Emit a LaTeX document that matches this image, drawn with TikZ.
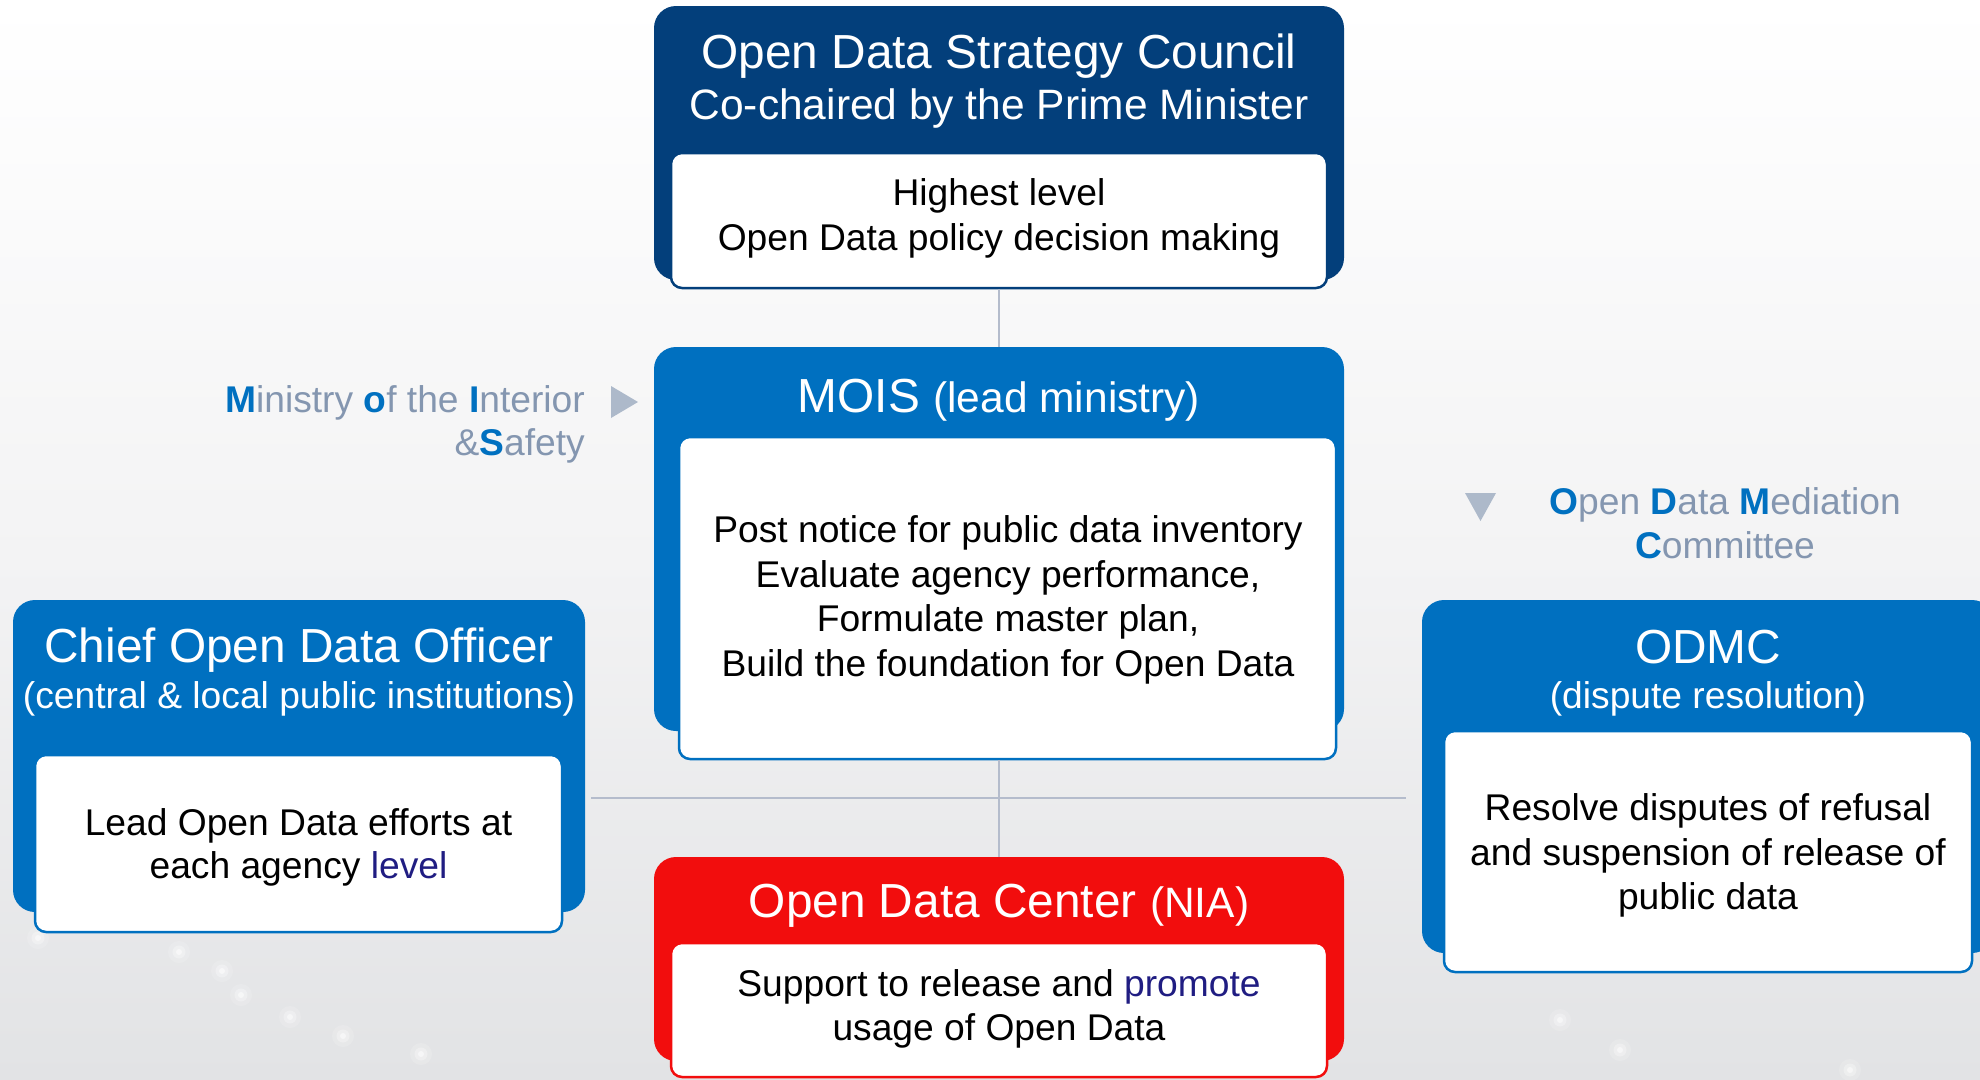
\documentclass[tikz,border=0pt]{standalone}
\usepackage{fontspec}
\setmainfont{Liberation Sans}
\definecolor{cdark}{HTML}{033F7B}
\definecolor{cblue}{HTML}{0070C0}
\definecolor{cred}{HTML}{F20D0D}
\definecolor{cgray}{HTML}{8496B0}
\definecolor{ctri}{HTML}{ADB9CA}
\definecolor{cnavy}{HTML}{201D82}
\definecolor{cline}{HTML}{B4BCCC}
\definecolor{bgmid}{HTML}{F3F3F4}
\definecolor{bgbot}{HTML}{E2E3E5}
\newcommand\myfsA{\fontsize{47.8}{55}\selectfont}
\newcommand\myfsB{\fontsize{42.5}{50}\selectfont}
\newcommand\myfsC{\fontsize{37.2}{44.6}\selectfont}
\newcommand\myb[1]{\textbf{\color{cblue}#1}}
\tikzset{
  obox/.style={rectangle, rounded corners=22pt, fill=#1, inner sep=0pt},
  ibox/.style={rectangle, rounded corners=11pt, fill=white, draw=#1, line width=2.5pt, inner sep=0pt},
  conn/.style={draw=cline, line width=2.2pt},
  ttl/.style={inner sep=0pt, anchor=base, text=white},
  bodytxt/.style={inner sep=0pt, anchor=base, text=black, font=\myfsC},
  lbl/.style={inner sep=0pt, text=cgray, font=\myfsC},
}
\begin{document}
\begin{tikzpicture}[x=1pt,y=-1pt]
\useasboundingbox (0,0) rectangle (1980,1079);
% background
\shade[top color=white, bottom color=bgmid] (0,0) rectangle (1980,560);
\shade[top color=bgmid, bottom color=bgbot] (0,560) rectangle (1980,1079);
\foreach \px/\py in {38/938,179/952,222/971,241/995,290/1017,343/1036,421/1054,1560/1020,1620/1050,1850/1070}{
  \fill[white, opacity=0.15] (\px,\py) circle (11);
  \fill[white, opacity=0.3] (\px,\py) circle (6.5);
  \fill[white, opacity=0.5] (\px,\py) circle (3);
}
% named free ends of the horizontal connector
\coordinate (hl) at (591,798);
\coordinate (hr) at (1406,798);
% outer boxes
\node[obox=cdark, minimum width=690pt, minimum height=274pt] (council) at (999,143) {};
\node[ibox=cdark, minimum width=656pt, minimum height=135pt] (councilbody) at (999,220.5) {};
\node[obox=cblue, minimum width=690pt, minimum height=384pt] (mois) at (999,539) {};
\node[obox=cblue, minimum width=572pt, minimum height=312pt] (codo) at (299,756) {};
\node[obox=cblue, minimum width=572pt, minimum height=353pt] (odmc) at (1708,776.5) {};
\node[obox=cred, minimum width=690pt, minimum height=204pt] (odc) at (999,959) {};
% connectors
\draw[conn] (councilbody.south) -- (mois.north);
\node[ibox=cblue, minimum width=657pt, minimum height=322pt] (moisbody) at (1007.5,598) {};
\draw[conn] (hl) -- (hr);
\draw[conn] (odc.north |- moisbody.south) -- (odc.north);
% inner boxes
\node[ibox=cred, minimum width=656pt, minimum height=134pt] (odcbody) at (999,1010) {};
\node[ibox=cblue, minimum width=527pt, minimum height=177pt] (codobody) at (298.5,843.5) {};
\node[ibox=cblue, minimum width=528pt, minimum height=241pt] (odmcbody) at (1708,851.5) {};
% council texts
\node[ttl, font=\myfsA] (t1) at (999,68) {Open Data Strategy Council};
\node[ttl, font=\myfsB] (t2) at (999,119) {Co-chaired by the Prime Minister};
\node[bodytxt] (t3) at (999,205) {Highest level};
\node[bodytxt] (t4) at (999,250) {Open Data policy decision making};
% MOIS texts
\node[ttl] (m1) at (999,412) {\myfsA MOIS \myfsB(lead ministry)};
\node[bodytxt] (m2) at (1008,542) {Post notice for public data inventory};
\node[bodytxt] (m3) at (1008,587) {Evaluate agency performance,};
\node[bodytxt] (m4) at (1008,631) {Formulate master plan,};
\node[bodytxt] (m5) at (1008,676) {Build the foundation for Open Data};
% CODO texts
\node[ttl, font=\myfsA] (c1) at (299,662) {Chief Open Data Officer};
\node[ttl, font=\myfsC] (c2) at (299,708) {(central \& local public institutions)};
\node[bodytxt] (c3) at (298.5,835) {Lead Open Data efforts at};
\node[bodytxt] (c4) at (298.5,878) {each agency {\color{cnavy}level}};
% ODMC texts
\node[ttl, font=\myfsA] (d1) at (1708,663) {ODMC};
\node[ttl, font=\myfsC] (d2) at (1708,708) {(dispute resolution)};
\node[bodytxt] (d3) at (1708,820) {Resolve disputes of refusal};
\node[bodytxt] (d4) at (1708,865) {and suspension of release of};
\node[bodytxt] (d5) at (1708,909) {public data};
% ODC texts
\node[ttl] (o1) at (999,917) {\myfsA Open Data Center \myfsB(NIA)};
\node[bodytxt] (o2) at (999,996) {Support to release and {\color{cnavy}promote}};
\node[bodytxt] (o3) at (999,1040) {usage of Open Data};
% side labels
\node[lbl, anchor=base east] (l1) at (585,412) {\myb{M}inistry \myb{o}f the \myb{I}nterior};
\node[lbl, anchor=base east] (l2) at (585,455) {\&\myb{S}afety};
\fill[ctri] (611,386) -- (638,402) -- (611,418) -- cycle;
\node[lbl, anchor=base] (r1) at (1725,514) {\myb{O}pen \myb{D}ata \myb{M}ediation};
\node[lbl, anchor=base] (r2) at (1725,558) {\myb{C}ommittee};
\fill[ctri] (1465,493) -- (1496,493) -- (1480.5,521) -- cycle;
\end{tikzpicture}
\end{document}
